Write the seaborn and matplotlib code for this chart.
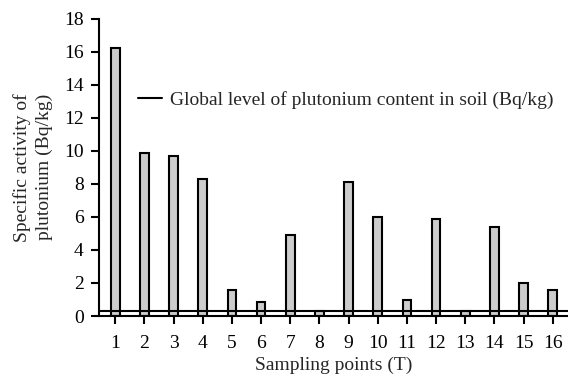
import pandas as pd
import matplotlib
matplotlib.use('Agg')
import matplotlib.pyplot as plt
import seaborn as sns

# Data
points = [str(i) for i in range(1, 17)]
activity = [16.25, 9.85, 9.7, 8.3, 1.55, 0.85, 4.9, 0.3,
            8.1, 6.0, 0.95, 5.9, 0.3, 5.4, 2.0, 1.55]
global_level = 0.32
legend_label = 'Global level of plutonium content in soil (Bq/kg)'
y_ticks = [0, 2, 4, 6, 8, 10, 12, 14, 16, 18]


def plot_activity(df):
    sns.set_style('ticks')
    plt.rcParams['font.family'] = ['Liberation Serif', 'DejaVu Serif']
    fig = plt.figure(figsize=(5.68, 3.74), dpi=100)
    ax = fig.add_axes([0.174, 0.155, 0.826, 0.795])
    sns.barplot(x='point', y='activity', data=df, ax=ax, color='#cccccc',
                saturation=1, width=0.3, edgecolor='black', linewidth=1.5)
    ax.axhline(global_level, color='black', lw=1.5, label=legend_label)
    ax.set_xlim(-0.56, 15.52)
    ax.set_ylim(0, 18)
    ax.set_yticks(y_ticks)
    ax.tick_params(axis='both', labelsize=14, width=1.5, length=6,
                   color='black', labelcolor='black')
    ax.tick_params(axis='x', pad=8)
    ax.tick_params(axis='y', pad=5)
    ax.set_xlabel('Sampling points (T)', fontsize=14, labelpad=3)
    ax.set_ylabel('Specific activity of\nplutonium (Bq/kg)', fontsize=14,
                  labelpad=8, linespacing=1.3)
    for s in ['left', 'bottom']:
        ax.spines[s].set_linewidth(1.5)
        ax.spines[s].set_color('black')
    sns.despine(ax=ax)
    ax.legend(loc='center left', bbox_to_anchor=(0.083, 0.727), frameon=False,
              fontsize=14, handlelength=1.25, handletextpad=0.4,
              borderaxespad=0, borderpad=0)
    fig.savefig('out.png', dpi=100)


df = pd.DataFrame({'point': points, 'activity': activity})
plot_activity(df)
